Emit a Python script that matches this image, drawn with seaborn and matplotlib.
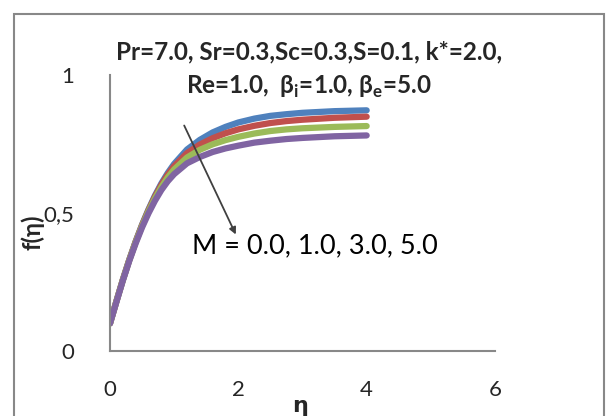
import matplotlib
matplotlib.use("Agg")
import matplotlib.pyplot as plt
import seaborn as sns
import pandas as pd
from matplotlib.patches import Rectangle

sns.set_theme(style="white")
plt.rcParams['font.family'] = ['Lato', 'DejaVu Sans']

# data
eta = [0.0, 0.05, 0.1, 0.2, 0.3, 0.4, 0.5, 0.6, 0.7, 0.8, 0.9, 1.0, 1.2, 1.4,
       1.6, 1.8, 2.0, 2.25, 2.5, 2.75, 3.0, 3.5, 4.0]
f_M0 = [0.10, 0.14, 0.18, 0.258, 0.33, 0.397, 0.458, 0.513, 0.563, 0.607, 0.645,
        0.678, 0.73, 0.765, 0.792, 0.812, 0.828, 0.842, 0.852, 0.858, 0.863, 0.869, 0.872]
f_M1 = [0.10, 0.14, 0.18, 0.258, 0.33, 0.396, 0.456, 0.51, 0.559, 0.602, 0.639,
        0.670, 0.717, 0.748, 0.771, 0.789, 0.803, 0.816, 0.826, 0.833, 0.838, 0.845, 0.849]
f_M3 = [0.10, 0.14, 0.18, 0.257, 0.329, 0.394, 0.453, 0.506, 0.553, 0.594, 0.629,
        0.658, 0.701, 0.729, 0.749, 0.764, 0.776, 0.788, 0.797, 0.803, 0.807, 0.812, 0.815]
f_M5 = [0.10, 0.139, 0.178, 0.255, 0.326, 0.39, 0.448, 0.499, 0.544, 0.583, 0.615,
        0.641, 0.680, 0.703, 0.721, 0.734, 0.744, 0.755, 0.762, 0.768, 0.772, 0.778, 0.781]
M_labels = ["0.0", "1.0", "3.0", "5.0"]
colors = ["#4F81BD", "#C0504D", "#9BBB59", "#8064A2"]
x_ticks = [0, 2, 4, 6]
y_ticks = [0, 0.5, 1]
y_ticklabels = ["0", "0,5", "1"]

rows = []
for lab, vals in zip(M_labels, [f_M0, f_M1, f_M3, f_M5]):
    for e, v in zip(eta, vals):
        rows.append({"eta": e, "f": v, "M": lab})
df = pd.DataFrame(rows)

fig = plt.figure(figsize=(6.11, 4.16), dpi=100)
ax = fig.add_axes([110/611, (416-351)/416, (495-110)/611, (351-75)/416])

sns.lineplot(data=df, x="eta", y="f", hue="M", palette=colors, linewidth=4.5,
             legend=False, ax=ax, solid_capstyle="round", solid_joinstyle="round")

ax.set_xlim(0, 6)
ax.set_ylim(0, 1)
ax.set_xticks(x_ticks)
ax.set_xticklabels([str(t) for t in x_ticks], fontsize=16)
ax.set_yticks(y_ticks)
ax.set_yticklabels(y_ticklabels, fontsize=16)
ax.tick_params(axis="x", length=0, pad=21)
ax.tick_params(axis="y", length=0, pad=26)
for s in ["top", "right"]:
    ax.spines[s].set_visible(False)
for s in ["left", "bottom"]:
    ax.spines[s].set_color("#888888")
    ax.spines[s].set_linewidth(1.5)
ax.set_xlabel("")
ax.set_ylabel("")

fig.text(300/611, (416-406)/416, "η", fontsize=16, fontweight="bold",
         ha="center", va="center", family=['DejaVu Sans'])
fig.text(33/611, (416-232)/416, "f(η)", fontsize=17, fontweight="bold",
         ha="center", va="center", rotation=90)

fig.text(309/611, (416-52)/416, "Pr=7.0, Sr=0.3,Sc=0.3,S=0.1, k*=2.0,",
         fontsize=17.5, fontweight="bold", ha="center", va="center")
fig.text(309/611, (416-87)/416,
         r"Re=1.0,  β$_\mathregular{i}$=1.0, β$_\mathregular{e}$=5.0",
         fontsize=17.5, fontweight="bold", ha="center", va="center")

ax.annotate("", xy=(237/611, (416-237)/416), xytext=(183/611, (416-123)/416),
            xycoords="figure fraction", textcoords="figure fraction",
            arrowprops=dict(arrowstyle="-|>", color="#404040", lw=1.3,
                            mutation_scale=10))
fig.text(192/611, (416-246)/416, "M = 0.0, 1.0, 3.0, 5.0", fontsize=19.5,
         ha="left", va="center", color="black")

fig.patches.append(Rectangle((14/611, -0.1), (604-14)/611, 1.1 - 14/416,
                             transform=fig.transFigure, fill=False,
                             edgecolor="#888888", linewidth=1.5))

fig.savefig("out.png", dpi=100)
